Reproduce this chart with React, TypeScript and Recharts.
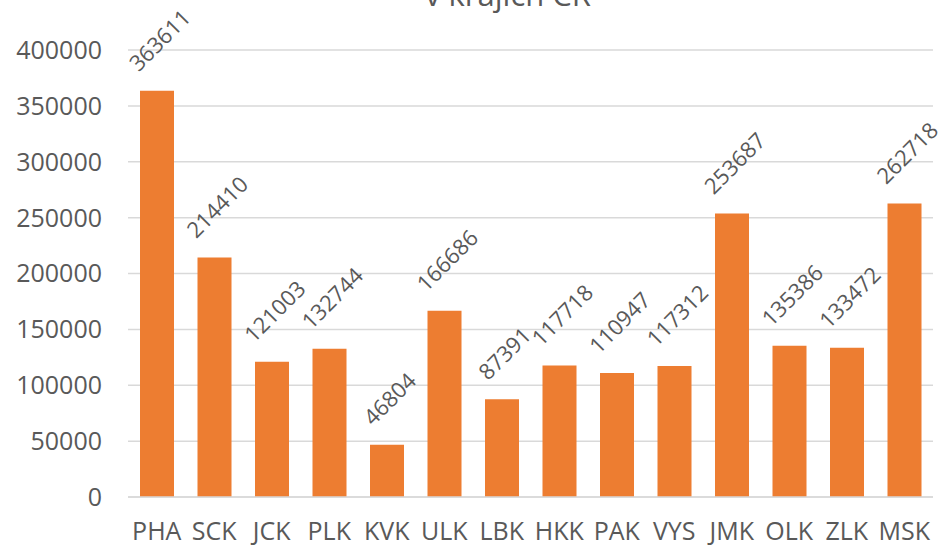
import { BarChart, Bar, XAxis, YAxis, CartesianGrid, LabelList } from "recharts";

const KRAJE = ["PHA", "SCK", "JCK", "PLK", "KVK", "ULK", "LBK", "HKK", "PAK", "VYS", "JMK", "OLK", "ZLK", "MSK"];
const POCTY = [363611, 214410, 121003, 132744, 46804, 166686, 87391, 117718, 110947, 117312, 253687, 135386, 133472, 262718];
const Y_TICKS = [0, 50000, 100000, 150000, 200000, 250000, 300000, 350000, 400000];

const FONT = "'Open Sans', sans-serif";
const TEXT = "#595959";

const data = KRAJE.map((kraj, i) => ({ kraj, pocet: POCTY[i] }));

function RotatedLabel(props: any) {
  const { x, y, width, value } = props;
  const len = String(value).length * 12.9;
  const half = (len * 0.707 + 22 * 0.707) / 2;
  const cx = x + width / 2 + 2;
  const cy = y - 16 - half;
  return (
    <text
      x={cx}
      y={cy}
      textAnchor="middle"
      dominantBaseline="central"
      transform={`rotate(-45, ${cx}, ${cy})`}
      fill={TEXT}
      fontSize={22}
      fontFamily={FONT}
    >
      {value}
    </text>
  );
}

export default function App() {
  return (
    <div style={{ position: "absolute", left: 0, top: 0, width: 938, height: 546, background: "#fff" }}>
      <div
        style={{
          position: "absolute",
          left: 0,
          width: 1016,
          top: -26,
          textAlign: "center",
          fontFamily: FONT,
          fontSize: 31,
          lineHeight: "40px",
          color: TEXT,
          whiteSpace: "nowrap",
        }}
      >
        v krajích ČR
      </div>
      <BarChart
        width={938}
        height={546}
        data={data}
        margin={{ top: 50, right: 5, left: 0, bottom: 0 }}
        barSize={34}
      >
        <CartesianGrid vertical={false} stroke="#D9D9D9" strokeWidth={1.5} />
        <XAxis
          dataKey="kraj"
          height={49}
          tickLine={false}
          tickSize={0}
          tickMargin={25}
          axisLine={{ stroke: "#D9D9D9", strokeWidth: 1.5 }}
          tick={{ fill: TEXT, fontSize: 25, fontFamily: FONT }}
          interval={0}
        />
        <YAxis
          width={128}
          domain={[0, 400000]}
          ticks={Y_TICKS}
          axisLine={false}
          tickLine={false}
          tickSize={0}
          tickMargin={26}
          tick={{ fill: TEXT, fontSize: 25, fontFamily: FONT }}
        />
        <Bar dataKey="pocet" fill="#ED7D31" isAnimationActive={false}>
          <LabelList dataKey="pocet" content={RotatedLabel} />
        </Bar>
      </BarChart>
    </div>
  );
}
